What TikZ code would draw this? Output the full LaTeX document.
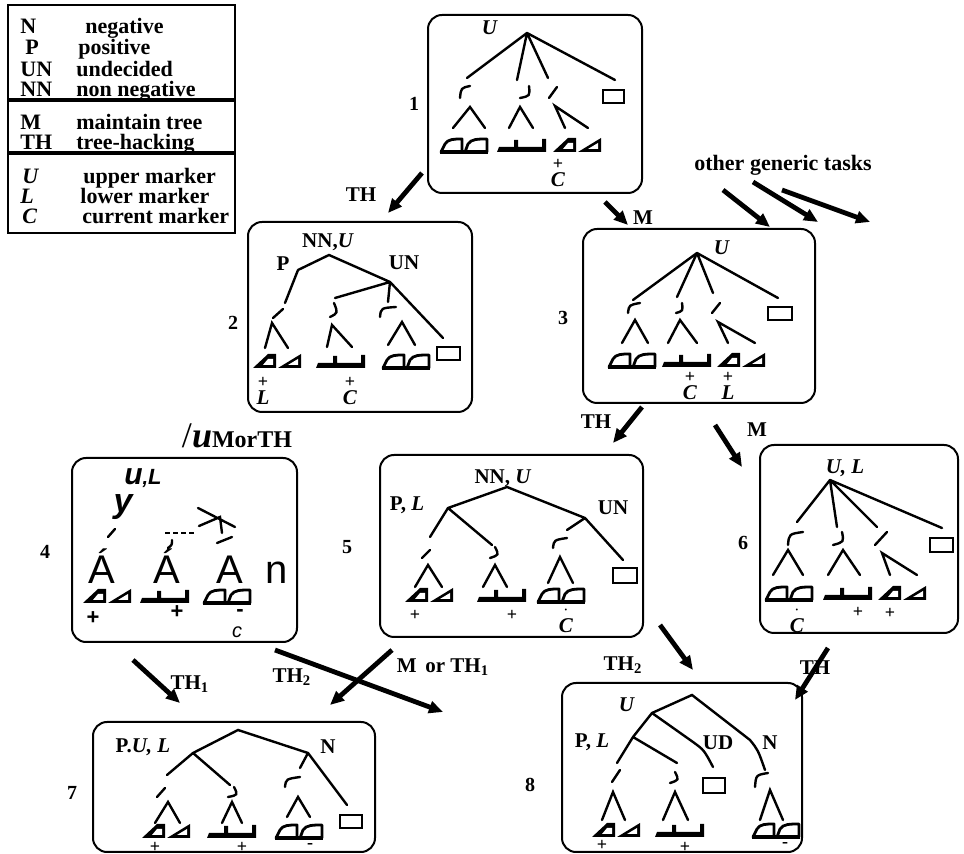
\documentclass[tikz,border=0pt]{standalone}
\usepackage{fontspec}
\setmainfont{Liberation Serif}
\setsansfont{Liberation Sans}
\usetikzlibrary{arrows.meta}
\newcommand{\stk}[2]{\shortstack{{\fontsize{9}{9}\selectfont #1}\\[-1pt]\textit{#2}}}
\tikzset{
  box/.style={draw,line width=1pt,rounded corners=7pt},
  edge/.style={line width=1.2pt,line cap=round},
  flow/.style={line width=2.4pt,-{Triangle[length=7pt,width=6pt]}},
  lbl/.style={inner sep=0pt,font=\fontsize{10.5}{11}\selectfont\bfseries},
  num/.style={inner sep=0pt,font=\fontsize{10}{11}\selectfont\bfseries},
  mk/.style={inner sep=0pt,font=\fontsize{10.5}{10}\selectfont\bfseries},
  sgn/.style={inner sep=0pt,font=\fontsize{9}{9}\selectfont\bfseries},
  leg/.style={inner sep=0pt,anchor=base west,font=\fontsize{11}{12}\selectfont\bfseries},
  big/.style={inner sep=0pt,anchor=base,font=\sffamily\fontsize{20}{20}\selectfont},
  sq/.style={draw,line width=1.4pt},
  leafr/.pic={\draw[line width=1.4pt,line join=round,fill=white]
      (1,0) -- (5,-8) .. controls (8,-13) and (14,-13) .. (22,-13) -- (22,0) -- cycle
      (25,0) -- (28,-8) .. controls (31,-13) and (38,-13) .. (47,-13) -- (47,0) -- cycle;
    \draw[line width=2pt] (0,0) -- (48,0);},
  leaft/.pic={\fill (0,0) -- (23,0) -- (23,-14) -- (15,-14) -- cycle
      (25,0) -- (48,0) -- (48,-14) -- cycle;
    \fill[white] (10,-3) -- (20,-3) -- (20,-9) -- (15,-9) -- cycle
      (35,-3) -- (45,-3) -- (45,-9) -- cycle;},
  leafb/.pic={\fill (0,0) -- (49,0) -- (49,-13) -- (45,-13) -- (45,-5) -- (21,-5)
      -- (21,-12) -- (17,-12) -- (17,-5) -- (2,-5) -- cycle;},
}
\begin{document}
\begin{tikzpicture}[x=0.5pt,y=-0.5pt]
\useasboundingbox (0,0) rectangle (964,854);

% legend
\draw[line width=1.2pt] (8,5) rectangle (235,233);
\draw[line width=1.6pt] (8,100) -- (235,100) (8,153) -- (235,153);
\foreach \k/\y/\xa/\a/\xb/\b in {n/34/20/N/85/negative, p/55/25/P/78/positive,
    un/77/20/UN/76/undecided, nn/97/20/NN/76/non negative,
    m/130/20/M/76/maintain tree, th/150/20/TH/76/tree-hacking,
    u/184/22/\textit{U}/83/upper marker, l/204/20/\textit{L}/80/lower marker,
    c/224/22/\textit{C}/82/current marker}
  {\node[leg] (lk\k) at (\xa,\y) {\a};
   \node[leg] (lt\k) at (\xb,\y) {\b};}

% box 1
\draw[box] (428,15) rectangle (642,193);
\node[num] (n1) at (414,104) {1};
\node[lbl] (u1) at (490,28) {\textit{U}};
\path (527,33) coordinate (t1r) (467,78) coordinate (t1a) (517,80) coordinate (t1b)
      (548,78) coordinate (t1c) (615,80) coordinate (t1d);
\draw[edge] (t1r) -- (t1a) (t1r) -- (t1b) (t1r) -- (t1c) (t1r) -- (t1d);
\draw[edge] (460,98) .. controls (461,88) .. (470,86);
\draw[edge] (529,86) .. controls (530,96) .. (520,98);
\draw[edge] (557,87) -- (549,98);
\draw[edge] (453,128) -- (470,107) -- (485,128) (509,128) -- (520,107) -- (533,128)
            (565,128) -- (555,106) -- (588,128);
\draw[sq] (603,90) rectangle (624,103);
\pic at (440,152) {leafr}; \pic at (497,152) {leafb}; \pic at (553,152) {leaft};
\node[mk] (c1) at (558,173) {\stk{+}{C}};

% box 2
\draw[box] (248,222) rectangle (472,412);
\node[num] (n2) at (233,323) {2};
\node[lbl] (nn2) at (328,242) {NN,\textit{U}};
\node[lbl] (p2) at (283,264) {P};
\node[lbl] (un2) at (404,263) {UN};
\path (329,255) coordinate (t2r) (298,270) coordinate (t2p) (390,282) coordinate (t2u)
      (285,303) coordinate (t2a) (335,298) coordinate (t2b) (388,302) coordinate (t2c)
      (443,338) coordinate (t2d);
\draw[edge] (t2p) -- (t2r) -- (t2u) (t2p) -- (t2a) (t2u) -- (t2b) (t2u) -- (t2c) (t2u) -- (t2d);
\draw[edge] (283,309) -- (273,318);
\draw[edge] (334,303) .. controls (338,313) .. (330,317);
\draw[edge] (380,317) .. controls (381,308) .. (396,307);
\draw[edge] (265,348) -- (272,323) -- (288,348) (327,347) -- (332,325) -- (352,347)
            (388,345) -- (402,322) -- (415,345);
\draw[sq] (437,347) rectangle (460,360);
\pic at (253,368) {leaft}; \pic at (316,368) {leafb}; \pic at (382,368) {leafr};
\node[mk] (l2) at (263,391) {\stk{+}{L}};
\node[mk] (c2) at (350,391) {\stk{+}{C}};

% box 3
\draw[box] (583,229) rectangle (815,403);
\node[num] (n3) at (563,318) {3};
\node[lbl] (u3) at (722,248) {\textit{U}};
\path (697,253) coordinate (t3r) (633,300) coordinate (t3a) (677,297) coordinate (t3b)
      (713,293) coordinate (t3c) (778,298) coordinate (t3d);
\draw[edge] (t3r) -- (t3a) (t3r) -- (t3b) (t3r) -- (t3c) (t3r) -- (t3d);
\draw[edge] (628,313) .. controls (629,305) .. (640,303);
\draw[edge] (682,303) .. controls (683,311) .. (676,313);
\draw[edge] (720,303) -- (712,313);
\draw[edge] (622,343) -- (635,320) -- (648,343) (668,343) -- (680,320) -- (697,343)
            (728,343) -- (718,322) -- (755,343);
\draw[sq] (768,307) rectangle (792,320);
\pic at (608,367) {leafr}; \pic at (662,367) {leafb}; \pic at (717,367) {leaft};
\node[mk] (c3) at (690,386) {\stk{+}{C}};
\node[mk] (l3) at (728,386) {\stk{+}{L}};

% box 4
\node[inner sep=0pt] (lab4) at (237,436) {{\fontsize{18}{18}\selectfont /\textbf{\textit{u}}}{\fontsize{12}{12}\selectfont\bfseries MorTH}};
\draw[box] (72,458) rectangle (297,642);
\node[num] (n4) at (45,552) {4};
\node[inner sep=0pt,font=\sffamily\bfseries\itshape] (ul4) at (143,478)
  {{\fontsize{15}{15}\selectfont u},{\fontsize{11}{11}\selectfont L}};
\node[inner sep=0pt,font=\sffamily\bfseries\itshape\fontsize{17}{17}\selectfont] (y4) at (123,507) {y};
\draw[edge] (115,529) -- (108,537);
\draw[line width=1.2pt,dash pattern=on 2.5pt off 1.5pt] (165,533) -- (197,533);
\draw[edge] (172,540) .. controls (172,545) .. (168,548);
\draw[edge] (198,508) -- (235,527) (199,526) -- (220,517) -- (222,533) (217,543) -- (232,537);
\node[big] (a4a) at (102,584) {Á};
\node[big] (a4b) at (167,584) {Á};
\node[big] (a4c) at (230,584) {A};
\node[big] (a4d) at (277,584) {n};
\pic at (83,603) {leaft}; \pic at (140,603) {leafb}; \pic at (203,603) {leafr};
\node[sgn,font=\sffamily\bfseries\fontsize{11}{11}\selectfont] (s4a) at (93,618) {+};
\node[sgn,font=\sffamily\bfseries\fontsize{11}{11}\selectfont] (s4b) at (177,612) {+};
\node[sgn,font=\sffamily\bfseries\fontsize{11}{11}\selectfont] (s4c) at (240,613) {-};
\node[sgn,font=\sffamily\itshape\fontsize{10}{10}\selectfont] (s4d) at (237,632) {c};

% box 5
\draw[box] (380,455) rectangle (643,637);
\node[num] (n5) at (347,547) {5};
\node[lbl] (nn5) at (503,478) {NN, \textit{U}};
\node[lbl] (p5) at (407,505) {P, \textit{L}};
\node[lbl] (un5) at (613,508) {UN};
\path (507,487) coordinate (t5r) (448,508) coordinate (t5p) (585,518) coordinate (t5u)
      (430,537) coordinate (t5a) (492,545) coordinate (t5b) (567,530) coordinate (t5c)
      (623,560) coordinate (t5d);
\draw[edge] (t5p) -- (t5r) -- (t5u) (t5p) -- (t5a) (t5p) -- (t5b) (t5u) -- (t5c) (t5u) -- (t5d);
\draw[edge] (430,550) -- (422,558);
\draw[edge] (495,547) .. controls (499,555) .. (490,558);
\draw[edge] (553,548) .. controls (554,540) .. (567,538);
\draw[edge] (415,587) -- (428,565) -- (442,587) (483,587) -- (495,565) -- (507,587)
            (548,583) -- (560,557) -- (573,583);
\draw[sq] (613,568) rectangle (637,583);
\pic at (405,602) {leaft}; \pic at (477,602) {leafb}; \pic at (537,602) {leafr};
\node[sgn] (s5a) at (415,615) {+};
\node[sgn] (s5b) at (512,615) {+};
\node[mk] (c5) at (566,620) {\stk{$\cdot$}{C}};

% box 6
\draw[box] (760,445) rectangle (958,633);
\node[num] (n6) at (743,543) {6};
\node[lbl] (ul6) at (845,468) {\textit{U, L}};
\path (830,480) coordinate (t6r) (797,522) coordinate (t6a) (837,527) coordinate (t6b)
      (877,527) coordinate (t6c) (942,528) coordinate (t6d);
\draw[edge] (t6r) -- (t6a) (t6r) -- (t6b) (t6r) -- (t6c) (t6r) -- (t6d);
\draw[edge] (788,545) .. controls (789,534) .. (803,532);
\draw[edge] (842,532) .. controls (844,542) .. (833,545);
\draw[edge] (887,532) -- (875,545);
\draw[edge] (773,575) -- (788,550) -- (803,575) (828,575) -- (843,550) -- (860,575)
            (890,575) -- (882,553) -- (917,575);
\draw[sq] (930,538) rectangle (953,552);
\pic at (765,600) {leafr}; \pic at (823,600) {leafb}; \pic at (878,600) {leaft};
\node[mk] (c6) at (797,620) {\stk{$\cdot$}{C}};
\node[sgn] (s6a) at (858,612) {+};
\node[sgn] (s6b) at (890,613) {+};

% box 7
\draw[box] (93,722) rectangle (375,852);
\node[num] (n7) at (72,793) {7};
\node[lbl] (pul7) at (143,747) {P.\textit{U, L}};
\node[lbl] (nl7) at (328,747) {N};
\path (238,730) coordinate (t7r) (193,753) coordinate (t7p) (308,753) coordinate (t7u)
      (167,775) coordinate (t7a) (230,785) coordinate (t7b) (300,768) coordinate (t7c)
      (347,805) coordinate (t7d);
\draw[edge] (t7p) -- (t7r) -- (t7u) (t7p) -- (t7a) (t7p) -- (t7b) (t7u) -- (t7c) (t7u) -- (t7d);
\draw[edge] (165,788) -- (157,797);
\draw[edge] (234,787) .. controls (238,795) .. (228,797);
\draw[edge] (285,787) .. controls (286,779) .. (300,777);
\draw[edge] (155,823) -- (168,802) -- (180,823) (222,823) -- (232,802) -- (242,823)
            (287,817) -- (298,797) -- (310,817);
\draw[sq] (340,815) rectangle (362,828);
\pic at (142,838) {leaft}; \pic at (207,838) {leafb}; \pic at (275,838) {leafr};
\node[sgn] (s7a) at (155,847) {+};
\node[sgn] (s7b) at (242,847) {+};
\node[sgn] (s7c) at (310,846) {-};

% box 8
\draw[box] (562,683) rectangle (802,852);
\node[num] (n8) at (530,785) {8};
\node[lbl] (u8) at (627,705) {\textit{U}};
\node[lbl] (pl8) at (592,742) {P, \textit{L}};
\node[lbl] (ud8) at (718,743) {UD};
\node[lbl] (nl8) at (770,743) {N};
\path (692,695) coordinate (t8r) (652,713) coordinate (t8u) (633,737) coordinate (t8p)
      (750,740) coordinate (t8k) (765,770) coordinate (t8n) (693,742) coordinate (t8j)
      (713,767) coordinate (t8d) (677,763) coordinate (t8b) (617,763) coordinate (t8a);
\draw[edge] (t8u) -- (t8r) -- (t8k) .. controls (758,750) .. (t8n);
\draw[edge] (t8u) -- (t8j) .. controls (704,750) .. (t8d);
\draw[edge] (t8u) -- (t8p) -- (t8a) (t8p) -- (t8b);
\draw[edge] (620,770) -- (612,782);
\draw[edge] (675,772) .. controls (679,780) .. (670,783);
\draw[edge] (755,787) .. controls (756,775) .. (768,773);
\draw[edge] (602,820) -- (613,792) -- (625,820) (663,820) -- (675,792) -- (688,820)
            (760,820) -- (770,790) -- (783,820);
\draw[sq] (703,778) rectangle (725,793);
\pic at (592,837) {leaft}; \pic at (655,837) {leafb}; \pic at (752,837) {leafr};
\node[sgn] (s8a) at (602,845) {+};
\node[sgn] (s8b) at (685,847) {+};
\node[sgn] (s8c) at (785,845) {-};

% arrows between states
\path (422,173) coordinate (a12s) (388,213) coordinate (a12e)
      (605,202) coordinate (a13s) (628,225) coordinate (a13e)
      (723,190) coordinate (og1s) (770,227) coordinate (og1e)
      (753,182) coordinate (og2s) (818,222) coordinate (og2e)
      (782,190) coordinate (og3s) (870,222) coordinate (og3e)
      (642,407) coordinate (a35s) (613,443) coordinate (a35e)
      (715,425) coordinate (a36s) (742,467) coordinate (a36e)
      (133,660) coordinate (a47s) (180,703) coordinate (a47e)
      (275,650) coordinate (a48s) (443,712) coordinate (a48e)
      (392,650) coordinate (a57s) (330,705) coordinate (a57e)
      (660,625) coordinate (a58s) (693,670) coordinate (a58e)
      (828,648) coordinate (a68s) (795,700) coordinate (a68e);
\foreach \a in {a12,a13,og1,og2,og3,a35,a36,a47,a48,a57,a58,a68}
  \draw[flow] (\a s) -- (\a e);
\node[lbl] (th12) at (361,195) {TH};
\node[lbl] (m13) at (643,218) {M};
\node[lbl,font=\fontsize{11}{11}\selectfont\bfseries] (ogt) at (783,165) {other generic tasks};
\node[lbl] (th35) at (596,422) {TH};
\node[lbl] (m36) at (757,430) {M};
\node[lbl] (th47) at (190,684) {TH\textsubscript{1}};
\node[lbl] (th48) at (292,677) {TH\textsubscript{2}};
\node[lbl] (m57) at (443,667) {M\, or TH\textsubscript{1}};
\node[lbl] (th58) at (623,665) {TH\textsubscript{2}};
\node[lbl] (th68) at (815,668) {TH};
\end{tikzpicture}
\end{document}
